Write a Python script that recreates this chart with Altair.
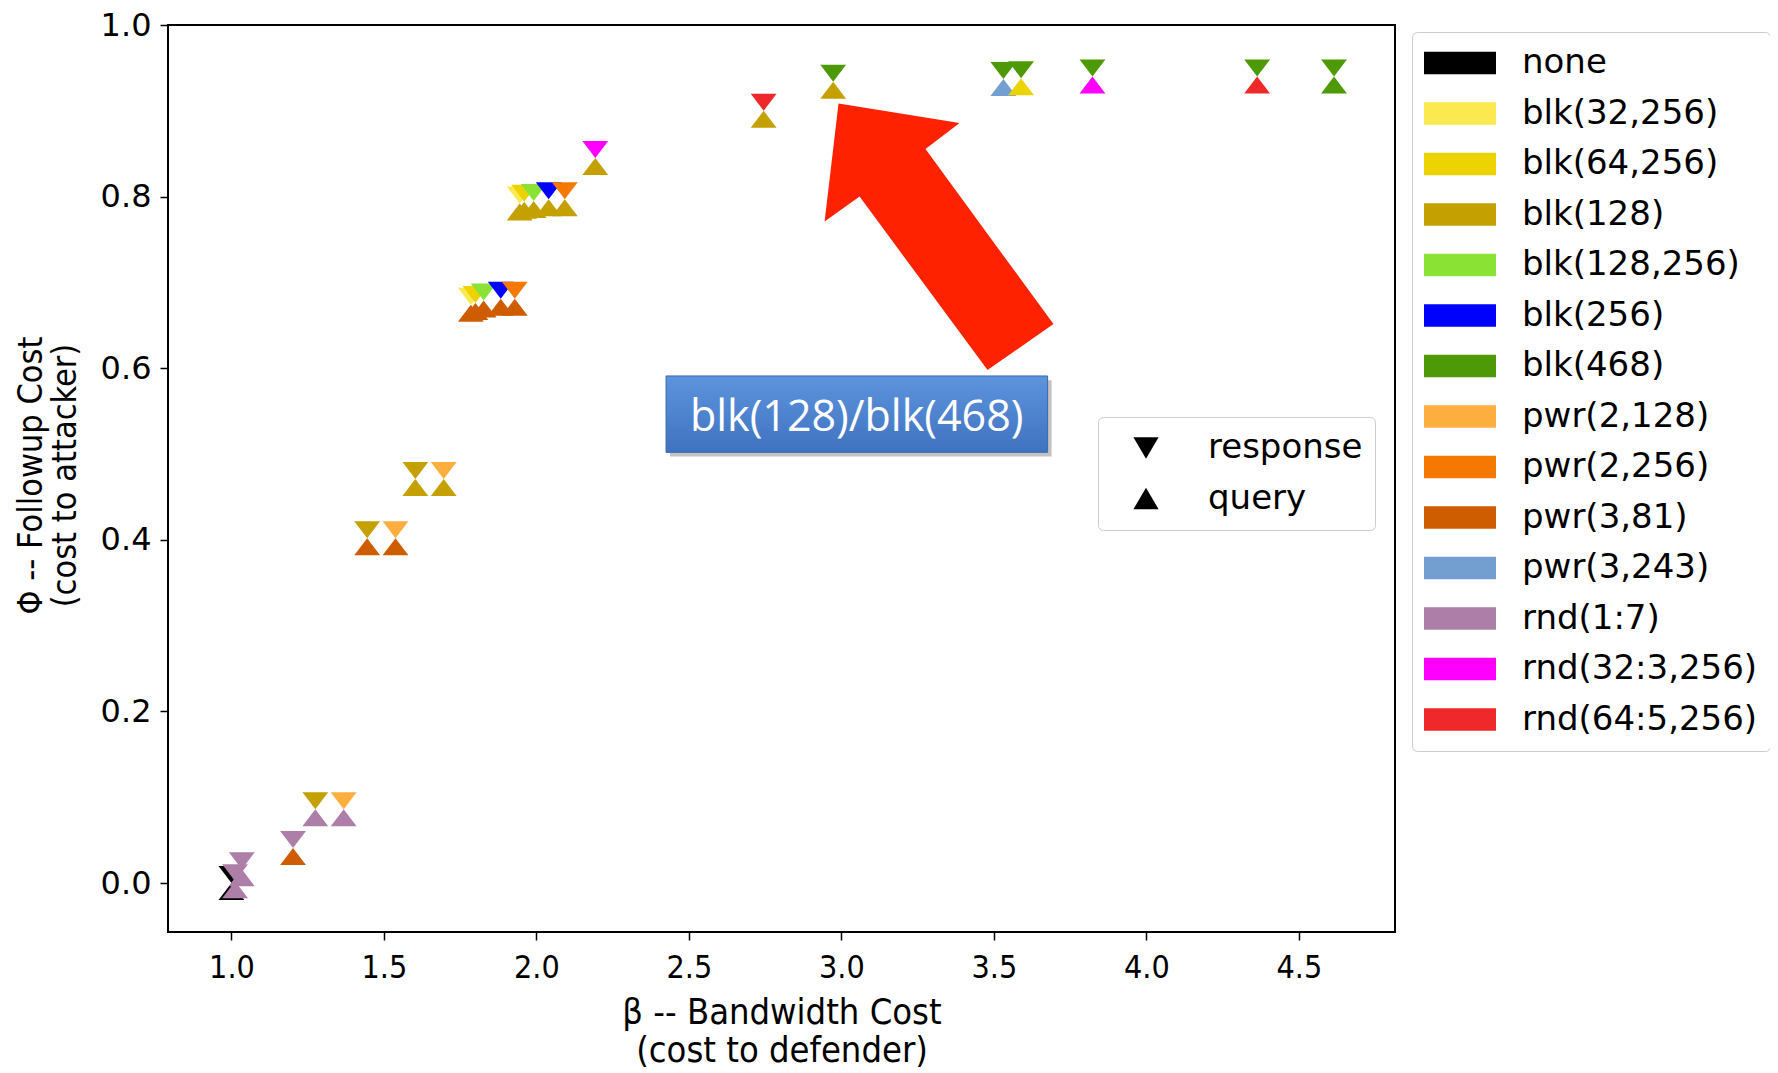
import altair as alt
import pandas as pd

# ---------------- data ----------------
schemes = ["none", "blk(32,256)", "blk(64,256)", "blk(128)", "blk(128,256)", "blk(256)",
           "blk(468)", "pwr(2,128)", "pwr(2,256)", "pwr(3,81)", "pwr(3,243)", "rnd(1:7)",
           "rnd(32:3,256)", "rnd(64:5,256)"]
scheme_colors = ["#000000", "#fce94f", "#edd400", "#c4a000", "#8ae234", "#0000ff",
                 "#4e9a06", "#fcaf3e", "#f57900", "#ce5c00", "#729fcf", "#ad7fa8",
                 "#ff00ff", "#ef2929"]

beta = [1.000, 1.012, 1.034, 1.202, 1.275, 1.368, 1.445, 1.538, 1.603, 1.696,
        1.785, 1.800, 1.827, 1.883, 1.929,
        1.945, 1.960, 1.991, 2.040, 2.093,
        2.193, 2.745, 2.973, 3.531, 3.589, 3.823, 4.363, 4.615]
phi = [0.000, 0.002, 0.016, 0.041, 0.086, 0.086, 0.402, 0.402, 0.471, 0.471,
       0.674, 0.676, 0.679, 0.681, 0.681,
       0.792, 0.794, 0.795, 0.797, 0.797,
       0.845, 0.900, 0.934, 0.937, 0.938, 0.940, 0.940, 0.940]
response_scheme = ["none", "rnd(1:7)", "rnd(1:7)", "rnd(1:7)", "blk(128)", "pwr(2,128)",
                   "blk(128)", "pwr(2,128)", "blk(128)", "pwr(2,128)",
                   "blk(32,256)", "blk(64,256)", "blk(128,256)", "blk(256)", "pwr(2,256)",
                   "blk(32,256)", "blk(64,256)", "blk(128,256)", "blk(256)", "pwr(2,256)",
                   "rnd(32:3,256)", "rnd(64:5,256)", "blk(468)", "blk(468)", "blk(468)",
                   "blk(468)", "blk(468)", "blk(468)"]
query_scheme = ["none", "rnd(1:7)", "rnd(1:7)", "pwr(3,81)", "rnd(1:7)", "rnd(1:7)",
                "pwr(3,81)", "pwr(3,81)", "blk(128)", "blk(128)",
                "pwr(3,81)", "pwr(3,81)", "pwr(3,81)", "pwr(3,81)", "pwr(3,81)",
                "blk(128)", "blk(128)", "blk(128)", "blk(128)", "blk(128)",
                "blk(128)", "blk(128)", "blk(128)", "pwr(3,243)", "blk(64,256)",
                "rnd(32:3,256)", "rnd(64:5,256)", "blk(468)"]

kinds = ["response", "query"]
x_ticks = [1.0, 1.5, 2.0, 2.5, 3.0, 3.5, 4.0, 4.5]
y_ticks = [0.0, 0.2, 0.4, 0.6, 0.8, 1.0]
x_domain = [0.792, 4.815]
y_domain = [-0.057, 1.0]

# annotation (in data units)
note_text = ["blk(128)/blk(468)"]
note_box_x = [2.425, 3.676]
note_box_y = [0.502, 0.591]
note_center = [3.05, 0.5415]
arrow_center = [3.320, 0.7534]

# ---------------- tables ----------------
n = len(beta)
points = pd.DataFrame({
    "beta": beta + beta,
    "phi": phi + phi,
    "scheme": response_scheme + query_scheme,
    "kind": ["response"] * n + ["query"] * n,
})
legend_df = pd.DataFrame({"kind": kinds, "beta": [-5.0, -5.0], "phi": [-5.0, -5.0]})
box_df = pd.DataFrame({"x": [note_box_x[0]], "x2": [note_box_x[1]],
                       "y": [note_box_y[0]], "y2": [note_box_y[1]]})
shadow_df = pd.DataFrame({"x": [note_box_x[0] + 0.013], "x2": [note_box_x[1] + 0.013],
                          "y": [note_box_y[0] - 0.005], "y2": [note_box_y[1] - 0.005]})
text_df = pd.DataFrame({"x": [note_center[0]], "y": [note_center[1]], "t": note_text})
arrow_df = pd.DataFrame({"x": [arrow_center[0]], "y": [arrow_center[1]]})

# ---------------- shapes (styles) ----------------
DOWN_HALF = "M-0.76,-1L0.76,-1L0,0Z"   # down triangle whose apex sits on the point
UP_HALF = "M-0.76,1L0.76,1L0,0Z"       # up triangle whose apex sits on the point
DOWN_LEG = "M-0.35,-0.3L0.35,-0.3L0,0.3Z"
UP_LEG = "M-0.35,0.3L0.35,0.3L0,-0.3Z"
RECT_LEG = "M-1,-0.31L1,-0.31L1,0.31L-1,0.31Z"
ARROW = ("M-0.750,-0.993L0.153,-0.847L-0.101,-0.653L0.854,0.653"
         "L0.362,0.996L-0.593,-0.299L-0.854,-0.112Z")

COND = "DejaVu Sans Condensed, DejaVu Sans"

x_scale = alt.Scale(domain=x_domain, nice=False, zero=False)
y_scale = alt.Scale(domain=y_domain, nice=False, zero=False)
x_axis = alt.Axis(values=x_ticks, format=".1f",
                  title=["β -- Bandwidth Cost", "(cost to defender)"],
                  titleY=63, titleBaseline="top", titleLineHeight=38, titleFontSize=36)
y_axis = alt.Axis(values=y_ticks, format=".1f",
                  title=["Φ -- Followup Cost", "(cost to attacker)"],
                  titleX=-154, titleY=450, titleAngle=270, titleBaseline="top",
                  titleAlign="center", titleLineHeight=34, titleFontSize=34)


def X(field):
    return alt.X(field, type="quantitative", scale=x_scale, axis=x_axis)


def Y(field):
    return alt.Y(field, type="quantitative", scale=y_scale, axis=y_axis)


color_legend = alt.Legend(
    orient="none", legendX=1244, legendY=7, padding=12, fillColor="white",
    strokeColor="#cccccc", cornerRadius=5, symbolType=RECT_LEG, symbolSize=5184,
    symbolStrokeWidth=0, symbolOpacity=1, symbolOffset=0, labelFont="DejaVu Sans",
    labelFontSize=34, labelColor="black", labelOffset=26, rowPadding=12.5, clipHeight=38,
    labelLimit=500, direction="vertical",
)
shape_legend = alt.Legend(
    orient="none", legendX=930, legendY=392, padding=12, fillColor="white",
    strokeColor="#cccccc", cornerRadius=5, symbolSize=5184, symbolStrokeWidth=0,
    symbolFillColor="black", symbolOpacity=1, symbolOffset=0, labelFont="DejaVu Sans",
    labelFontSize=34, labelColor="black", labelOffset=26, rowPadding=12.5,
    clipHeight=38, labelLimit=500, direction="vertical",
)
color_scale = alt.Scale(domain=schemes, range=scheme_colors)

base = alt.Chart(points)
resp_layer = base.transform_filter(alt.datum.kind == "response").mark_point(
    filled=True, shape=DOWN_HALF, size=1156, strokeWidth=0, opacity=1
).encode(x=X("beta"), y=Y("phi"),
         color=alt.Color("scheme:N", scale=color_scale, legend=color_legend, title=None))
query_layer = base.transform_filter(alt.datum.kind == "query").mark_point(
    filled=True, shape=UP_HALF, size=1156, strokeWidth=0, opacity=1
).encode(x=X("beta"), y=Y("phi"),
         color=alt.Color("scheme:N", scale=color_scale, legend=color_legend, title=None))

shape_layer = alt.Chart(legend_df).mark_point(
    filled=True, color="black", clip=True, size=400, strokeWidth=0, opacity=1
).encode(x=X("beta"), y=Y("phi"),
         shape=alt.Shape("kind:N", scale=alt.Scale(domain=kinds, range=[DOWN_LEG, UP_LEG]),
                         legend=shape_legend, title=None))

shadow_layer = alt.Chart(shadow_df).mark_rect(color="#9a9a9a", opacity=0.6).encode(
    x=X("x"), x2="x2", y=Y("y"), y2="y2")
box_layer = alt.Chart(box_df).mark_rect(
    fill=alt.LinearGradient(gradient="linear",
                            stops=[alt.GradientStop(color="#5d94dd", offset=0),
                                   alt.GradientStop(color="#3f72c0", offset=1)],
                            x1=0, x2=0, y1=0, y2=1),
    stroke="#3a69b0", strokeWidth=1,
).encode(x=X("x"), x2="x2", y=Y("y"), y2="y2")
text_layer = alt.Chart(text_df).mark_text(
    font="Open Sans", fontSize=43, color="white", align="center", baseline="middle"
).encode(x=X("x"), y=Y("y"), text="t:N")
arrow_layer = alt.Chart(arrow_df).mark_point(
    shape=ARROW, size=71824, filled=True, color="#fe2200", strokeWidth=0, opacity=1
).encode(x=X("x"), y=Y("y"))

chart = alt.layer(
    resp_layer, query_layer, shape_layer, shadow_layer, box_layer, text_layer, arrow_layer
).properties(
    width=1227, height=907,
    padding={"left": 160, "top": 17, "right": 375, "bottom": 147},
    autosize=alt.AutoSizeParams(type="none"),
).configure_view(
    stroke="black", strokeWidth=2
).configure_axis(
    domain=False, grid=False, ticks=True, tickColor="black", tickSize=8, tickWidth=1.5,
    labelColor="black", titleColor="black", titleFont=COND,
    titleFontWeight="normal",
).configure_axisX(
    labelFont=COND, labelFontSize=32, labelPadding=12,
).configure_axisY(
    labelFont="DejaVu Sans", labelFontSize=32, labelPadding=9,
)

chart.save("out.html", embed_options={"renderer": "svg", "actions": False})
